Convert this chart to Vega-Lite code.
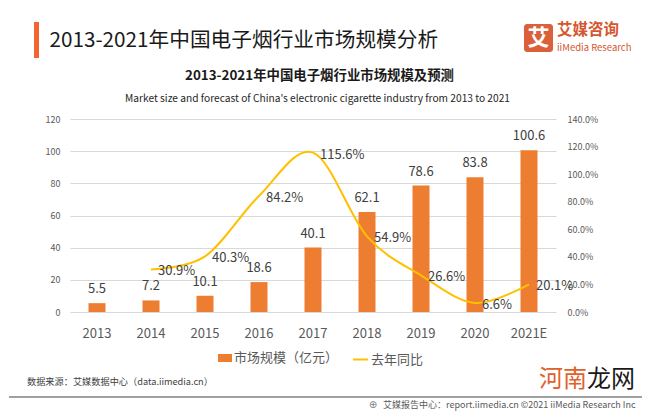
{
  "$schema": "https://vega.github.io/schema/vega-lite/v6.json",
  "width": 486,
  "height": 193,
  "autosize": "none",
  "padding": {"left": 70, "top": 119, "right": 115, "bottom": 103},
  "background": "white",
  "config": {
    "font": "Noto Sans CJK SC",
    "view": {"stroke": null},
    "axis": {"labelFont": "Noto Sans CJK SC", "titleFont": "Noto Sans CJK SC"}
  },
  "data": {
    "values": [
      {"year": "2013", "size": 5.5, "growth": null},
      {"year": "2014", "size": 7.2, "growth": 0.309},
      {"year": "2015", "size": 10.1, "growth": 0.403},
      {"year": "2016", "size": 18.6, "growth": 0.842},
      {"year": "2017", "size": 40.1, "growth": 1.156},
      {"year": "2018", "size": 62.1, "growth": 0.549},
      {"year": "2019", "size": 78.6, "growth": 0.266},
      {"year": "2020", "size": 83.8, "growth": 0.066},
      {"year": "2021E", "size": 100.6, "growth": 0.201}
    ]
  },
  "layer": [
    {
      "layer": [
        {
          "mark": {"type": "bar", "size": 17},
          "encoding": {
            "x": {
              "field": "year", "type": "ordinal", "sort": null,
              "scale": {"paddingInner": 0, "paddingOuter": 0},
              "axis": {"orient": "bottom", "title": null, "domain": false, "ticks": false, "grid": false, "labelAngle": 0, "labelFontSize": 13, "labelColor": "#595959", "labelPadding": 15}
            },
            "y": {
              "field": "size", "type": "quantitative",
              "scale": {"domain": [0, 120]},
              "axis": {"orient": "left", "title": null, "values": [0, 20, 40, 60, 80, 100, 120], "tickCount": 7, "labelOverlap": false, "domain": false, "ticks": false, "grid": true, "gridColor": "#D9D9D9", "gridWidth": 1, "labelFontSize": 9, "labelColor": "#595959", "labelPadding": 10}
            },
            "color": {
              "datum": "市场规模（亿元）",
              "scale": {"range": ["#ED7D31"]},
              "legend": {"orient": "none", "legendX": 148, "legendY": 232, "title": null, "symbolType": "M-1,-0.57H1V0.57H-1Z", "symbolSize": 196, "symbolStrokeWidth": 0, "labelFontSize": 13, "labelColor": "#595959", "labelOffset": 2, "padding": 0}
            }
          }
        },
        {
          "mark": {"type": "text", "dy": -10, "baseline": "alphabetic", "fontSize": 13, "color": "#404040"},
          "encoding": {
            "x": {
              "field": "year", "type": "ordinal", "sort": null,
              "axis": {"orient": "top", "labels": false, "ticks": false, "domain": false, "grid": false, "title": "Market size and forecast of China's electronic cigarette industry from 2013 to 2021", "titleX": 247, "titleY": -21, "titleAlign": "center", "titleBaseline": "middle", "titleFontSize": 10.2, "titleFontWeight": "normal", "titleColor": "#262626"}
            },
            "y": {
              "field": "size", "type": "quantitative",
              "axis": {"orient": "left", "title": null, "values": [0, 20, 40, 60, 80, 100, 120], "tickCount": 7, "labelOverlap": false, "domain": false, "ticks": false, "grid": true, "gridColor": "#D9D9D9", "gridWidth": 1, "labelFontSize": 9, "labelColor": "#595959", "labelPadding": 10}
            },
            "text": {"field": "size", "type": "quantitative", "format": ".1f"}
          }
        }
      ],
      "resolve": {"axis": {"x": "independent"}}
    },
    {
      "transform": [{"filter": "datum.growth != null"}],
      "layer": [
        {
          "mark": {"type": "line", "interpolate": "cardinal", "strokeWidth": 2},
          "encoding": {
            "x": {
              "field": "year", "type": "ordinal", "sort": null,
              "axis": {"orient": "top", "labels": false, "ticks": false, "domain": false, "grid": false, "title": "2013-2021年中国电子烟行业市场规模及预测", "titleX": 249, "titleY": -44, "titleAlign": "center", "titleBaseline": "middle", "titleFontSize": 13.4, "titleFontWeight": "bold", "titleColor": "#1a1a1a"}
            },
            "y": {
              "field": "growth", "type": "quantitative",
              "scale": {"domain": [0, 1.4]},
              "axis": {"orient": "right", "title": null, "values": [0, 0.2, 0.4, 0.6, 0.8, 1.0, 1.2, 1.4], "tickCount": 8, "labelOverlap": false, "format": ".1%", "domain": false, "ticks": false, "grid": false, "labelFontSize": 9, "labelColor": "#595959", "labelPadding": 11}
            },
            "color": {
              "datum": "去年同比",
              "scale": {"range": ["#FFC000"]},
              "legend": {"orient": "none", "legendX": 282, "legendY": 232, "title": null, "symbolType": "stroke", "symbolSize": 225, "symbolStrokeWidth": 2, "labelFontSize": 13, "labelColor": "#595959", "labelOffset": 2, "padding": 0}
            }
          }
        },
        {
          "mark": {"type": "text", "align": "left", "baseline": "middle", "dx": 7, "dy": 2, "fontSize": 13, "color": "#404040"},
          "encoding": {
            "x": {
              "field": "year", "type": "ordinal", "sort": null,
              "axis": {"orient": "top", "labels": false, "ticks": false, "domain": false, "grid": false, "title": "2013-2021年中国电子烟行业市场规模分析", "titleX": -21, "titleY": -79, "titleAlign": "left", "titleAnchor": "start", "titleBaseline": "middle", "titleFontSize": 20.7, "titleFontWeight": "normal", "titleColor": "#1a1a1a"}
            },
            "y": {
              "field": "growth", "type": "quantitative",
              "axis": {"orient": "right", "title": null, "values": [0, 0.2, 0.4, 0.6, 0.8, 1.0, 1.2, 1.4], "tickCount": 8, "labelOverlap": false, "format": ".1%", "domain": false, "ticks": false, "grid": false, "labelFontSize": 9, "labelColor": "#595959", "labelPadding": 11}
            },
            "text": {"field": "growth", "type": "quantitative", "format": ".1%"}
          }
        }
      ],
      "resolve": {"axis": {"x": "independent"}}
    },
    {
      "data": {"values": [{}]},
      "layer": [
        {
          "mark": {"type": "rect", "color": "#F26531"},
          "encoding": {"x": {"value": -36}, "x2": {"value": -31}, "y": {"value": -97}, "y2": {"value": -61}}
        },
        {
          "mark": {"type": "rect", "color": "#D9603B", "cornerRadius": 3},
          "encoding": {"x": {"value": 454}, "x2": {"value": 483}, "y": {"value": -95}, "y2": {"value": -67}}
        },
        {
          "mark": {"type": "text", "align": "center", "baseline": "middle", "fontSize": 22, "fontWeight": "bold", "color": "white"},
          "encoding": {"x": {"value": 468.5}, "y": {"value": -81}, "text": {"value": "艾"}}
        },
        {
          "mark": {"type": "text", "align": "left", "baseline": "middle", "fontSize": 15.5, "fontWeight": "bold", "color": "#D4572F"},
          "encoding": {"x": {"value": 487}, "y": {"value": -89}, "text": {"value": "艾媒咨询"}}
        },
        {
          "mark": {"type": "text", "align": "left", "baseline": "middle", "fontSize": 9.5, "color": "#D4572F"},
          "encoding": {"x": {"value": 487}, "y": {"value": -71}, "text": {"value": "iiMedia Research"}}
        },
        {
          "mark": {"type": "text", "align": "left", "baseline": "middle", "fontSize": 9.2, "color": "#404040"},
          "encoding": {"x": {"value": -43}, "y": {"value": 263}, "text": {"value": "数据来源：艾媒数据中心（data.iimedia.cn）"}}
        },
        {
          "mark": {"type": "rule", "color": "#808080", "strokeWidth": 1.5},
          "encoding": {"x": {"value": -61}, "x2": {"value": 572}, "y": {"value": 278}}
        },
        {
          "mark": {"type": "text", "align": "center", "baseline": "middle", "fontSize": 10, "font": "DejaVu Sans", "color": "#7f7f7f"},
          "encoding": {"x": {"value": 303}, "y": {"value": 286}, "text": {"value": "⊕"}}
        },
        {
          "mark": {"type": "text", "align": "left", "baseline": "middle", "fontSize": 9, "color": "#595959"},
          "encoding": {"x": {"value": 313}, "y": {"value": 286}, "text": {"value": "艾媒报告中心：report.iimedia.cn   ©2021  iiMedia Research  Inc"}}
        },
        {
          "mark": {"type": "text", "align": "left", "baseline": "middle", "fontSize": 24, "color": "#E2602B"},
          "encoding": {"x": {"value": 469}, "y": {"value": 261}, "text": {"value": "河南"}}
        },
        {
          "mark": {"type": "text", "align": "left", "baseline": "middle", "fontSize": 24, "color": "#1a1a1a"},
          "encoding": {"x": {"value": 517}, "y": {"value": 261}, "text": {"value": "龙网"}}
        }
      ]
    }
  ],
  "resolve": {"scale": {"y": "independent", "color": "independent"}, "axis": {"x": "independent"}}
}
